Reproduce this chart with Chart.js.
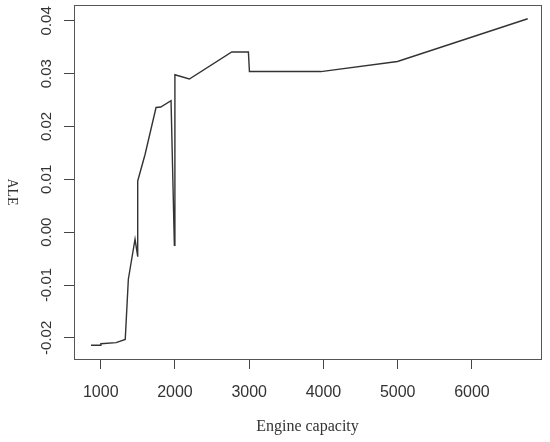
<!DOCTYPE html>
<html>
<head>
<meta charset="utf-8">
<script src="https://cdn.jsdelivr.net/npm/chart.js@4.4.1/dist/chart.umd.min.js"></script>
<style>
  html, body { margin: 0; padding: 0; background: #fff; }
</style>
</head>
<body>
<canvas id="aleChart" width="550" height="442"></canvas>
<script>
// ALE curve for engine capacity
const engineCapacity = [869, 1000, 1002, 1207, 1330, 1372, 1462, 1497, 1498, 1597, 1745, 1808, 1947, 1992, 1998, 1999, 2000, 2194, 2765, 2989, 3003, 3965, 4997, 6751];
const ale = [-0.0214, -0.0214, -0.0211, -0.0209, -0.0203, -0.0089, -0.0013, -0.0045, 0.0097, 0.0147, 0.0236, 0.0237, 0.0249, -0.0025, 0.0175, 0.0050, 0.0298, 0.0290, 0.0341, 0.0341, 0.0304, 0.0304, 0.0323, 0.0404];
const xTicks = [1000, 2000, 3000, 4000, 5000, 6000];
const yTicks = [-0.02, -0.01, 0.00, 0.01, 0.02, 0.03, 0.04];

const points = engineCapacity.map((x, i) => ({ x: x, y: ale[i] }));

// R style box, rotated y labels and y title
const rStyle = {
    id: 'rStyle',
    afterDraw(chart) {
        const c = chart.ctx;
        const a = chart.chartArea;
        const y = chart.scales.y;
        c.save();
        c.strokeStyle = '#555';
        c.lineWidth = 1;
        c.strokeRect(Math.round(a.left) + 0.5, Math.round(a.top) + 0.5,
            Math.round(a.right - a.left), Math.round(a.bottom - a.top));

        c.fillStyle = '#333';
        c.font = '15px "Liberation Sans", Arial, sans-serif';
        c.textAlign = 'center';
        c.textBaseline = 'middle';
        yTicks.forEach(v => {
            const py = y.getPixelForValue(v);
            c.save();
            c.translate(47, py);
            c.rotate(-Math.PI / 2);
            c.fillText(v.toFixed(2), 0, 0);
            c.restore();
        });

        c.font = '14px "Liberation Serif", "Times New Roman", serif';
        c.translate(12, (a.top + a.bottom) / 2 + 10);
        c.rotate(Math.PI / 2);
        c.fillText('ALE', 0, 0);
        c.restore();
    }
};

const chart = new Chart(document.getElementById('aleChart').getContext('2d'), {
    type: 'scatter',
    data: {
        datasets: [{
            data: points,
            showLine: true,
            borderColor: '#333',
            borderWidth: 1.4,
            pointRadius: 0,
            tension: 0
        }]
    },
    options: {
        responsive: false,
        animation: false,
        layout: { padding: { top: 5, right: 9, left: 0, bottom: 0 } },
        plugins: {
            legend: { display: false },
            tooltip: { enabled: false }
        },
        scales: {
            x: {
                type: 'linear',
                min: 640,
                max: 6930,
                afterBuildTicks: s => { s.ticks = xTicks.map(v => ({ value: v })); },
                afterFit: s => { s.height = 83; },
                border: { display: false },
                grid: { drawOnChartArea: false, drawTicks: true, tickLength: 10, color: '#444' },
                ticks: {
                    color: '#333',
                    padding: 14,
                    maxRotation: 0,
                    font: { family: '"Liberation Sans", Arial, sans-serif', size: 16 },
                    callback: v => String(v)
                },
                title: {
                    display: true,
                    text: 'Engine capacity',
                    color: '#333',
                    font: { family: '"Liberation Serif", "Times New Roman", serif', size: 16 },
                    padding: { top: 0, bottom: 6 }
                }
            },
            y: {
                min: -0.024,
                max: 0.043,
                afterBuildTicks: s => { s.ticks = yTicks.map(v => ({ value: v })); },
                afterFit: s => { s.width = 74; },
                border: { display: false },
                grid: { drawOnChartArea: false, drawTicks: true, tickLength: 10, color: '#444' },
                ticks: { display: false }
            }
        }
    },
    plugins: [rStyle]
});
</script>
</body>
</html>
